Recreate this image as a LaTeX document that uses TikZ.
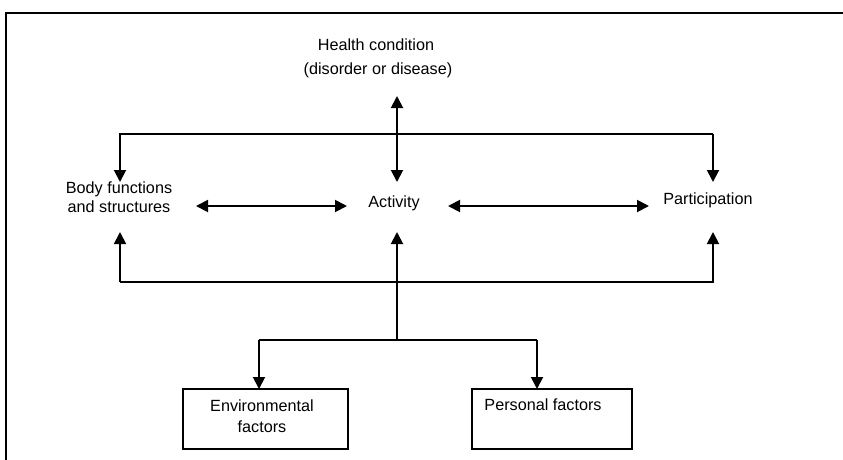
\documentclass[tikz,border=0pt]{standalone}
\usepackage{fontspec}
\setmainfont{Liberation Sans}
\usetikzlibrary{arrows.meta}
\begin{document}
\begin{tikzpicture}[x=1pt,y=-1pt,
  lbl/.style={inner sep=0pt,font=\fontsize{16.2}{18}\selectfont,align=center},
  conn/.style={line width=1.9pt},
  arr/.style={conn,-{Triangle[length=12pt,width=12pt]}},
  darr/.style={conn,{Triangle[length=12pt,width=12pt]}-{Triangle[length=12pt,width=12pt]}},
  fbox/.style={draw,line width=1.6pt,minimum width=165pt,minimum height=60pt,inner sep=0pt}]
\useasboundingbox (0,0) rectangle (843,459);
\begin{scope}
\clip (0,0) rectangle (843,459);
\draw[line width=2pt] (6,13) rectangle (860,480);
\end{scope}
% text nodes
\node[lbl] (hc1) at (376,45) {Health condition};
\node[lbl] (hc2) at (378,70) {(disorder or disease)};
\node[lbl,font=\fontsize{16.2}{18.5}\selectfont] (body) at (119,197) {Body functions\\and structures};
\node[lbl] (act) at (394,203) {Activity};
\node[lbl] (part) at (708,200) {Participation};
% boxes
\node[fbox] (env) at (265.5,419) {};
\node[fbox,minimum width=160pt] (pers) at (552,419) {};
\node[lbl,font=\fontsize{16.2}{21.5}\selectfont] (envt) at (262,416) {Environmental\\factors};
\node[lbl] (perst) at (543,405) {Personal factors};
% coordinates
\coordinate (hT) at (397,96);
\coordinate (aT) at (397,182);
\coordinate (tl) at (120,134);
\coordinate (tr) at (713,134);
\coordinate (bT) at (120,182);
\coordinate (pT) at (713,182);
\coordinate (bB) at (120,232);
\coordinate (pB) at (713,232);
\coordinate (bl) at (120,282);
\coordinate (br) at (713,282);
\coordinate (aB) at (397,232);
\coordinate (junc) at (397,340);
\coordinate (jl) at (259,340);
\coordinate (jr) at (537,340);
\coordinate (envT) at (259,389);
\coordinate (persT) at (537,389);
\coordinate (l1) at (196,206);
\coordinate (l2) at (347,206);
\coordinate (r1) at (448,206);
\coordinate (r2) at (649,206);
% connectors
\draw[darr] (hT) -- (aT);
\draw[arr] (tr) -- (pT);
\draw[arr] (tr) -- (tl) -- (bT);
\draw[darr] (l1) -- (l2);
\draw[darr] (r1) -- (r2);
\draw[arr] (bl) -- (bB);
\draw[arr] (bl) -- (br) -- (pB);
\draw[arr] (junc) -- (aB);
\draw[conn] (jl) -- (jr);
\draw[arr] (jl) -- (envT);
\draw[arr] (jr) -- (persT);
\end{tikzpicture}
\end{document}
